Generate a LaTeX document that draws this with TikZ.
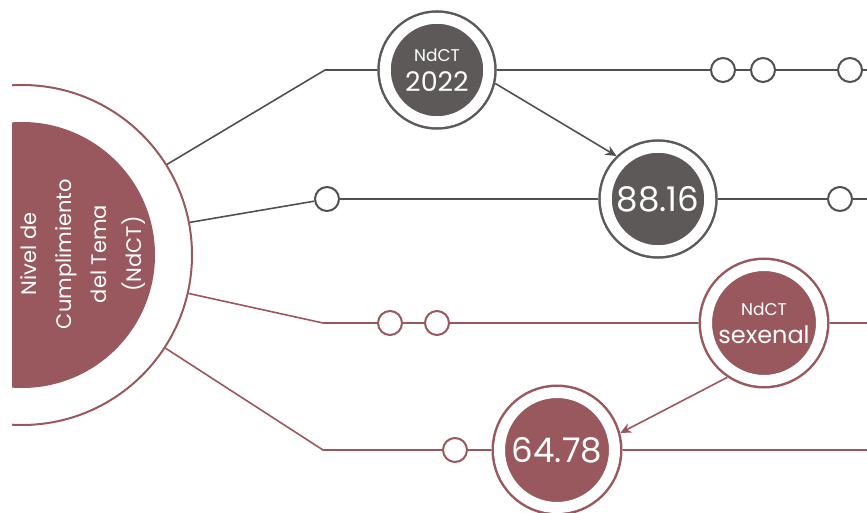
\documentclass[tikz,border=0pt]{standalone}
\usepackage{fontspec}
\setmainfont{Poppins}
\usetikzlibrary{arrows.meta}
\definecolor{tinto}{RGB}{152,88,93}
\definecolor{grisf}{RGB}{94,89,89}
\definecolor{grisl}{RGB}{80,80,80}

\begin{document}
\begin{tikzpicture}[x=1pt,y=-1pt,
  lin/.style={line width=1.6pt},
  bola/.style={circle,inner sep=0pt,minimum size=#1,line width=2.5pt,
    double=white,double distance=11pt,outer sep=8pt,text=white,align=center},
  punto/.style={circle,fill=white,minimum size=24pt,inner sep=0pt,line width=2pt},
  flecha/.style={lin,-{Stealth[length=11pt,width=10pt]}}]
  \useasboundingbox (0,0) rectangle (867,513);
  % semicirculo de la izquierda
  \begin{scope}
    \clip (12,0) rectangle (867,513);
    \fill[tinto] (22,255) circle[radius=133];
    \node[circle,draw=tinto,line width=2pt,minimum size=340pt,inner sep=0pt] (tema) at (22,255) {};
  \end{scope}
  \node[rotate=90,text=white,align=center,font=\fontsize{21}{35}\selectfont] (tematxt) at (83,254)
    {Nivel de\\Cumplimiento\\del Tema\\(NdCT)};

  % nodos grandes
  \node[bola=103.5pt,fill=grisf,draw=grisf] (n2022) at (437,70)
    {{\fontsize{17}{18}\selectfont NdCT}\\[9pt]{\fontsize{27}{28}\selectfont 2022}};
  \node[bola=103.5pt,fill=grisf,draw=grisf,font=\fontsize{34}{36}\selectfont] (n8816) at (658,199) {88.16};
  \node[bola=115pt,fill=tinto,draw=tinto] (nsex) at (764,323)
    {{\fontsize{17}{18}\selectfont NdCT}\\[9pt]{\fontsize{24}{25}\selectfont sexenal}};
  \node[bola=115pt,fill=tinto,draw=tinto,font=\fontsize{34}{36}\selectfont] (n6478) at (557,450) {64.78};

  % puntos
  \node[punto,draw=grisl] (s11) at (723,70) {};
  \node[punto,draw=grisl] (s12) at (763,70) {};
  \node[punto,draw=grisl] (s13) at (850,70) {};
  \node[punto,draw=grisl] (s21) at (327,199) {};
  \node[punto,draw=grisl] (s22) at (840,199) {};
  \node[punto,draw=tinto] (s31) at (390,323) {};
  \node[punto,draw=tinto] (s32) at (437,323) {};
  \node[punto,draw=tinto] (s41) at (455,450) {};

  \coordinate (b1) at (325,70);
  \coordinate (b3) at (323,323);
  \coordinate (b4) at (323,450);
  \coordinate (e1) at (867,70);
  \coordinate (e2) at (867,199);
  \coordinate (e3) at (867,323);
  \coordinate (e4) at (867,450);

  % lineas
  \draw[lin,grisl] (tema.32) -- (b1) -- (n2022);
  \draw[lin,grisl] (n2022) -- (s11) -- (s12) -- (s13) -- (e1);
  \draw[lin,grisl] (tema.11) -- (s21);
  \draw[lin,grisl] (s21) -- (n8816) -- (s22) -- (e2);
  \draw[lin,tinto] (tema.-13) -- (b3) -- (s31) -- (s32) -- (nsex) -- (e3);
  \draw[lin,tinto] (tema.-33) -- (b4) -- (s41) -- (n6478) -- (e4);

  % flechas
  \draw[flecha,grisl] (n2022.-13) -- (n8816.134);
  \draw[flecha,tinto] (nsex.236) -- (n6478.15);
\end{tikzpicture}
\end{document}
